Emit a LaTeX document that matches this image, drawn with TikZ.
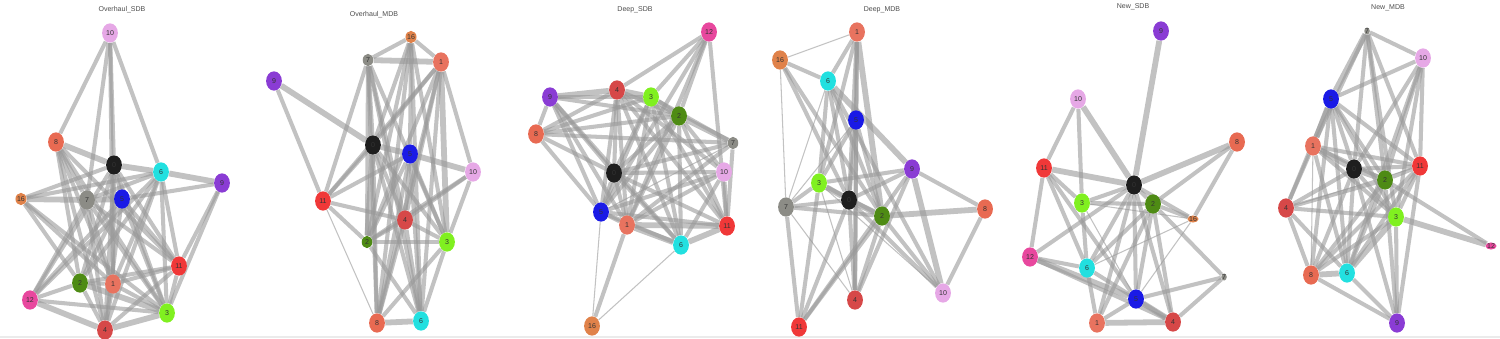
\documentclass[tikz,border=0pt]{standalone}
\usepackage{fontspec}
\setmainfont{Liberation Sans}
\usetikzlibrary{shapes.geometric}
\pgfdeclarelayer{bg}
\pgfsetlayers{bg,main}
\definecolor{c0}{HTML}{1E1E1E}
\definecolor{c1}{HTML}{E8735F}
\definecolor{c2}{HTML}{4E8B14}
\definecolor{c3}{HTML}{80F020}
\definecolor{c4}{HTML}{D64848}
\definecolor{c5}{HTML}{1A1AE6}
\definecolor{c6}{HTML}{22E0E0}
\definecolor{c7}{HTML}{8C8C86}
\definecolor{c8}{HTML}{E86A52}
\definecolor{c9}{HTML}{8A3CD4}
\definecolor{c10}{HTML}{E6A8E6}
\definecolor{c11}{HTML}{F03838}
\definecolor{c12}{HTML}{E8489E}
\definecolor{c16}{HTML}{E0824A}

\begin{document}
\begin{tikzpicture}[x=0.02cm,y=-0.02cm,
  vtx/.style={ellipse,inner sep=0pt,minimum width=9,minimum height=11,text=black!80,font=\fontsize{4}{5}\selectfont},
  svtx/.style={vtx,minimum width=6,minimum height=7},
  tvtx/.style={vtx,minimum width=3,minimum height=4},
  edge/.style={draw=black!40,opacity=0.6,line width=2.3pt},
  heavy/.style={edge,line width=3.3pt},
  faint/.style={edge,line width=0.6pt},
  title/.style={text=black!70,font=\fontsize{4}{5}\selectfont}]
\useasboundingbox (0,0) rectangle (1500,338);
\fill[black!8] (0,335.5) rectangle (1500,338);

% titles
\node[title] (t1) at (122,10) {Overhaul\_SDB};
\node[title] (t2) at (374,15) {Overhaul\_MDB};
\node[title] (t3) at (635,10) {Deep\_SDB};
\node[title] (t4) at (882,10) {Deep\_MDB};
\node[title] (t5) at (1133,7) {New\_SDB};
\node[title] (t6) at (1388,8) {New\_MDB};

% Overhaul_SDB
\foreach \n/\x/\y in {0/114/165,1/113/284,2/80/283,3/167/313,4/105/330,5/122/199,6/161/172,
  7/87/200,8/56/142,9/222/183,10/110/33,11/179/266,12/30/300}
  \node[vtx,fill=c\n] (os\n) at (\x,\y) {\n};
\node[svtx,fill=c16] (os16) at (21,199) {16};

% Overhaul_MDB
\foreach \n/\x/\y in {0/373/145,1/441/62,3/447/242,4/405/220,5/410/154,6/421/321,
  8/377/323,9/274/81,10/473/172,11/323/201}
  \node[vtx,fill=c\n] (om\n) at (\x,\y) {\n};
\node[svtx,fill=c2] (om2) at (367,242) {2};
\node[svtx,fill=c7] (om7) at (368,60) {7};
\node[svtx,fill=c16] (om16) at (411,37) {16};

% Deep_SDB
\foreach \n/\x/\y in {0/614/173,1/627/225,2/679/116,3/651/97,4/617/90,5/601/212,6/681/245,
  8/536/134,9/550/97,10/724/172,11/727/226,12/709/32,16/592/326}
  \node[vtx,fill=c\n] (ds\n) at (\x,\y) {\n};
\node[svtx,fill=c7] (ds7) at (733,143) {7};

% Deep_MDB
\foreach \n/\x/\y in {0/849/200,1/857/32,2/882/216,3/819/183,4/855/300,5/856/120,6/828/81,
  7/786/207,8/985/209,9/912/169,10/943/293,11/799/327,16/780/60}
  \node[vtx,fill=c\n] (dm\n) at (\x,\y) {\n};

% New_SDB
\foreach \n/\x/\y in {0/1134/185,1/1097/323,2/1153/204,3/1082/203,4/1173/322,5/1136/299,
  6/1087/268,8/1237/142,9/1161/31,10/1078/99,11/1044/168,12/1030/257}
  \node[vtx,fill=c\n] (ns\n) at (\x,\y) {\n};
\node[tvtx,fill=c16] (ns16) at (1193,219) {16};
\node[tvtx,fill=c7] (ns7) at (1224,277) {7};

% New_MDB
\foreach \n/\x/\y in {0/1354/169,1/1313/146,2/1385/180,3/1396/217,4/1286/208,5/1331/99,
  6/1347/273,8/1311/275,9/1397/323,10/1423/58,11/1420/166}
  \node[vtx,fill=c\n] (nm\n) at (\x,\y) {\n};
\node[tvtx,fill=c7] (nm7) at (1367,31) {7};
\node[tvtx,fill=c12] (nm12) at (1491,246) {12};

\begin{pgfonlayer}{bg}
% Overhaul_SDB links
\foreach \a/\b in {8/0,0/6,6/9,16/7,7/5,3/4,2/3,12/4}
  \draw[heavy] (os\a) -- (os\b);
\foreach \a/\b in {10/8,10/7,10/1,10/6,10/0,8/2,8/1,8/3,8/11,8/7,8/4,0/16,0/2,0/1,0/4,0/3,
  0/11,0/12,0/5,6/7,6/16,6/11,6/3,6/2,6/12,6/1,6/4,5/9,9/11,9/3,16/2,16/3,16/1,7/11,7/3,
  7/4,7/12,7/1,5/11,5/3,5/2,5/12,5/4,11/2,11/1,11/3,11/4,2/1,2/12,2/4,1/3,1/4,12/3}
  \draw[edge] (os\a) -- (os\b);

% Overhaul_MDB links
\foreach \a/\b in {7/1,0/5,5/10,0/2,1/3,8/6,9/0}
  \draw[heavy] (om\a) -- (om\b);
\foreach \a/\b in {16/7,16/1,16/0,16/5,16/6,16/2,16/3,16/8,7/0,7/2,7/4,7/3,7/6,7/8,7/11,
  1/10,1/11,1/0,1/2,1/8,1/4,1/6,9/11,0/3,0/4,0/8,0/6,0/11,5/11,5/2,5/8,5/6,5/3,5/4,10/4,
  10/3,10/2,11/4,11/2,4/3,4/2,4/8,4/6,2/3,2/6,3/8,3/6}
  \draw[edge] (om\a) -- (om\b);
\draw[faint] (om11) -- (om8);

% Deep_SDB links
\foreach \a/\b in {9/4,2/7,1/6,4/3,3/2,6/11,1/11}
  \draw[heavy] (ds\a) -- (ds\b);
\foreach \a/\b in {12/4,12/3,12/2,12/11,12/5,12/1,9/3,9/2,9/8,9/0,9/5,9/6,9/1,4/2,4/8,4/0,
  4/5,4/1,4/6,4/11,4/10,3/7,3/8,3/0,3/5,3/1,3/6,3/11,2/8,2/5,2/1,2/6,2/11,2/10,2/0,8/0,8/5,
  8/7,7/0,7/11,7/1,0/10,0/5,0/1,0/6,0/11,10/5,10/1,10/6,10/11,5/1,5/6,5/11,1/16}
  \draw[edge] (ds\a) -- (ds\b);
\foreach \a/\b in {5/16,6/16,7/5}
  \draw[faint] (ds\a) -- (ds\b);

% Deep_MDB links
\foreach \a/\b in {3/0,0/2,2/8,1/2,9/10,6/9}
  \draw[heavy] (dm\a) -- (dm\b);
\foreach \a/\b in {1/6,1/5,1/3,1/0,1/4,16/6,16/2,16/0,6/3,6/2,6/0,6/10,5/3,5/0,5/4,5/2,
  9/3,9/0,9/8,9/4,9/11,3/7,3/11,3/2,7/0,7/2,7/11,0/4,0/11,0/10,2/10,2/11,2/4,8/10}
  \draw[edge] (dm\a) -- (dm\b);
\foreach \a/\b in {1/16,16/7,6/7,5/7,3/4,7/4,3/10}
  \draw[faint] (dm\a) -- (dm\b);

% New_SDB links
\foreach \a/\b in {9/0,10/0,8/0,1/4,12/5,5/4,11/0}
  \draw[heavy] (ns\a) -- (ns\b);
\foreach \a/\b in {10/11,10/3,8/2,8/16,11/3,11/6,11/12,11/5,0/3,0/2,0/16,0/12,0/6,0/5,0/1,
  0/4,3/2,3/6,2/16,2/6,2/1,2/4,2/5,2/7,12/6,12/4,6/1,6/4,7/5,7/4,5/1}
  \draw[edge] (ns\a) -- (ns\b);
\foreach \a/\b in {3/16,16/6,16/5,3/5}
  \draw[faint] (ns\a) -- (ns\b);

% New_MDB links
\foreach \a/\b in {8/6,7/5,1/0,0/2,3/12,5/1,3/6}
  \draw[heavy] (nm\a) -- (nm\b);
\foreach \a/\b in {7/10,7/1,7/0,7/2,7/11,7/3,10/5,10/0,10/11,10/2,10/3,10/6,5/0,5/11,5/2,
  5/3,5/4,5/8,5/6,1/11,1/2,1/4,1/6,1/3,0/11,0/4,0/6,0/8,0/9,0/3,11/2,11/3,11/6,11/9,11/8,
  2/4,2/12,2/8,2/6,2/9,4/3,4/8,4/6,3/8,3/9,8/9,6/9}
  \draw[edge] (nm\a) -- (nm\b);
\foreach \a/\b in {1/8,4/11}
  \draw[faint] (nm\a) -- (nm\b);
\end{pgfonlayer}
\end{tikzpicture}
\end{document}
